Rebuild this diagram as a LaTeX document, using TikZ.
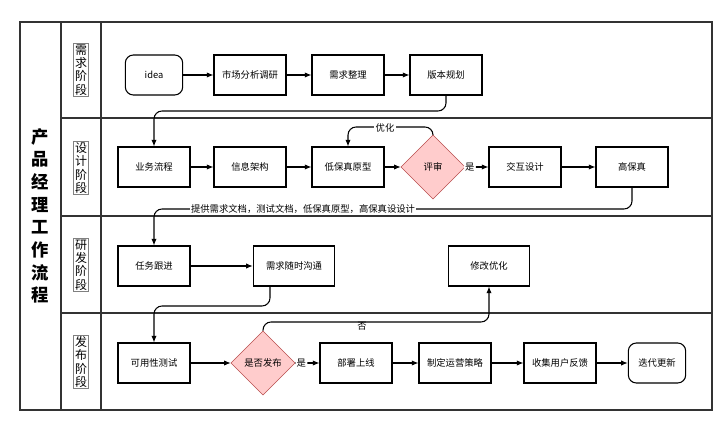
\documentclass[tikz,border=0pt]{standalone}
\usepackage{fontspec}
\setmainfont{Noto Sans CJK SC}
\usetikzlibrary{shapes.geometric,arrows.meta}
\begin{document}
\begin{tikzpicture}[x=0.75pt,y=-0.75pt,
  box/.style={draw,thick,minimum width=54pt,minimum height=30pt,inner sep=1pt,font=\fontsize{7}{8}\selectfont},
  rbox/.style={box,rounded corners=6pt,minimum width=43pt},
  dia/.style={diamond,draw=red!60!black!70,fill=red!20,minimum width=48pt,minimum height=48pt,inner sep=0pt,font=\fontsize{7}{8}\selectfont},
  arr/.style={-{Latex[length=5pt,width=4pt]},thick,rounded corners=6pt},
  lane/.style={draw=gray,thick,inner sep=1pt,font=\fontsize{9}{10}\selectfont,align=center},
  lbl/.style={font=\fontsize{7}{8}\selectfont,fill=white,inner sep=1pt}]
\useasboundingbox (0,0) rectangle (720,434);
\draw[thick,black!80] (20,22) rectangle (712,410);
\draw[thick,black!80] (61,22)--(61,410) (101,22)--(101,410);
\draw[thick,black!80] (61,118)--(712,118) (61,216)--(712,216) (61,313)--(712,313);
\node[font=\bfseries\fontsize{13}{17}\selectfont,align=center] (title) at (40,216) {产\\品\\经\\理\\工\\作\\流\\程};
\node[lane] (l1) at (81,70) {需\\求\\阶\\段};
\node[lane] (l2) at (81,168) {设\\计\\阶\\段};
\node[lane] (l3) at (81,265) {研\\发\\阶\\段};
\node[lane] (l4) at (81,362) {发\\布\\阶\\段};
% row 1
\node[rbox] (idea) at (154,75) {idea};
\node[box] (sc) at (250,75) {市场分析调研};
\node[box] (xq) at (348,75) {需求整理};
\node[box] (bb) at (446,75) {版本规划};
% row 2
\node[box] (yw) at (154,167) {业务流程};
\node[box] (xx) at (250,167) {信息架构};
\node[box] (dbz) at (348,167) {低保真原型};
\node[dia] (ps) at (433,167) {评审};
\node[box] (jh) at (525,167) {交互设计};
\node[box] (gbz) at (632,167) {高保真};
% row 3
\node[box] (rw) at (154,266) {任务跟进};
\node[box,minimum width=61pt] (gt) at (294,266) {需求随时沟通};
\node[box,minimum width=61pt] (xg) at (489,266) {修改优化};
% row 4
\node[box] (ky) at (154,363) {可用性测试};
\node[dia] (fb) at (263,363) {是否发布};
\node[box] (bs) at (356,363) {部署上线};
\node[box] (yy) at (455,363) {制定运营策略};
\node[box] (sj) at (560,363) {收集用户反馈};
\node[rbox] (dd) at (657,363) {迭代更新};
% connectors
\draw[arr] (idea)--(sc);
\draw[arr] (sc)--(xq);
\draw[arr] (xq)--(bb);
\draw[arr] (bb.south)|-(300,111)-|(yw.north);
\draw[arr] (yw)--(xx);
\draw[arr] (xx)--(dbz);
\draw[arr] (dbz)--(ps);
\draw[arr] (ps.north)|-(390,127)-|(dbz.north);
\node[lbl] (yh) at (385,128) {优化};
\draw[arr] (ps)--(jh) node[pos=0.2,lbl] (s1) {是};
\draw[arr] (jh)--(gbz);
\draw[arr] (gbz.south)|-(400,209)-|(rw.north);
\node[lbl] (tg) at (303,209) {提供需求文档，测试文档，低保真原型，高保真设设计};
\draw[arr] (rw)--(gt);
\draw[arr] ([xshift=-18pt]gt.south)|-(220,306)-|(ky.north);
\draw[arr] (ky)--(fb);
\draw[arr] (fb.north)|-(380,322)-|(xg.south);
\node[font=\fontsize{7}{8}\selectfont] (no) at (362,326) {否};
\draw[arr] (fb)--(bs) node[pos=0.25,lbl] (s2) {是};
\draw[arr] (bs)--(yy);
\draw[arr] (yy)--(sj);
\draw[arr] (sj)--(dd);
\end{tikzpicture}
\end{document}
